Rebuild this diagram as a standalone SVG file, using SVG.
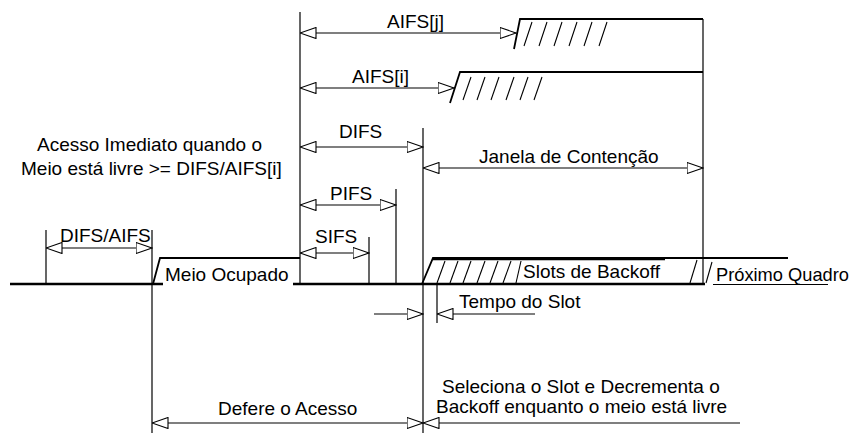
<svg xmlns="http://www.w3.org/2000/svg" width="853" height="433" viewBox="0 0 853 433">
<defs>
<style>
text{font-family:"Liberation Sans",Arial,sans-serif;font-size:19px;fill:#000}
.thin{stroke:#000;stroke-width:1.2;fill:none}
.mid{stroke:#000;stroke-width:1.8;fill:none}
.thick{stroke:#000;stroke-width:2.6;fill:none}
.hatch{stroke:#000;stroke-width:1.1;fill:none}
.dim{stroke:#000;stroke-width:1.2;fill:none;marker-start:url(#ah);marker-end:url(#ah)}
</style>
<marker id="ah" markerUnits="userSpaceOnUse" viewBox="0 0 17 12" refX="16.5" refY="6" markerWidth="17" markerHeight="12" orient="auto-start-reverse">
<path d="M16.5,6 L0.5,0.5 L0.5,11.5 Z" fill="#fff" stroke="#000" stroke-width="1.1"/>
</marker>
</defs>
<rect width="853" height="433" fill="#fff"/>

<g id="medium">
<line class="thick" x1="10" y1="284" x2="163" y2="284"/>
<polyline class="mid" points="153,284 160,258 300,258"/>
<line class="thick" x1="293" y1="284" x2="425" y2="284"/>
<polyline class="mid" points="422,284 433,258 788,258"/>
<line class="thick" x1="433" y1="259" x2="665" y2="259"/>
<line class="thick" x1="425" y1="284" x2="705" y2="284"/>
<line class="thin" x1="713" y1="284.5" x2="828" y2="284.5"/>
<g class="hatch">
<line x1="437" y1="283" x2="445" y2="261"/>
<line x1="450" y1="283" x2="458" y2="261"/>
<line x1="463" y1="283" x2="471" y2="261"/>
<line x1="477" y1="283" x2="485" y2="261"/>
<line x1="490" y1="283" x2="498" y2="261"/>
<line x1="503" y1="283" x2="511" y2="261"/>
<line x1="516" y1="283" x2="521" y2="261"/>
<line x1="690" y1="283" x2="697" y2="260"/>
<line x1="706" y1="283" x2="712" y2="262"/>
</g>
</g>

<g id="aifs-j-step">
<polyline class="mid" points="514,49 520,19 703,19"/>
<g class="hatch">
<line x1="524" y1="46" x2="532" y2="22"/>
<line x1="539" y1="46" x2="547" y2="22"/>
<line x1="554" y1="46" x2="562" y2="22"/>
<line x1="569" y1="46" x2="577" y2="22"/>
<line x1="584" y1="46" x2="592" y2="22"/>
<line x1="599" y1="46" x2="607" y2="22"/>
</g>
</g>

<g id="aifs-i-step">
<polyline class="mid" points="450,103 460,72 703,72"/>
<g class="hatch">
<line x1="463" y1="100" x2="471" y2="77"/>
<line x1="477" y1="100" x2="485" y2="77"/>
<line x1="491" y1="100" x2="499" y2="77"/>
<line x1="506" y1="100" x2="514" y2="77"/>
<line x1="520" y1="100" x2="528" y2="77"/>
<line x1="534" y1="100" x2="542" y2="77"/>
</g>
</g>

<g id="connectors">
<line class="thin" x1="300" y1="12" x2="300" y2="284"/>
<line class="thin" x1="703" y1="19" x2="703" y2="284"/>
<line class="thin" x1="423" y1="128" x2="423" y2="433"/>
<line class="thin" x1="152" y1="230" x2="152" y2="433"/>
<line class="thin" x1="46" y1="230" x2="46" y2="284"/>
<line class="thin" x1="369" y1="237" x2="369" y2="284"/>
<line class="thin" x1="396" y1="189" x2="396" y2="284"/>
<line class="thin" x1="437" y1="284" x2="437" y2="323"/>

<line class="dim" x1="300" y1="33" x2="516" y2="33"/>
<line class="dim" x1="300" y1="88" x2="454" y2="88"/>
<line class="dim" x1="300" y1="147" x2="423" y2="147"/>
<line class="dim" x1="423" y1="168" x2="703" y2="168"/>
<line class="dim" x1="300" y1="205" x2="396" y2="205"/>
<line class="dim" x1="300" y1="253" x2="369" y2="253"/>
<line class="dim" x1="46" y1="248" x2="152" y2="248"/>
<line class="dim" x1="152" y1="423" x2="423" y2="423"/>
<line class="thin" x1="374" y1="314" x2="423" y2="314" marker-end="url(#ah)"/>
<line class="thin" x1="437" y1="314" x2="535" y2="314" marker-start="url(#ah)"/>
<line class="thin" x1="423" y1="423" x2="740" y2="423" marker-start="url(#ah)"/>
</g>

<g id="labels">
<text x="387" y="28">AIFS[j]</text>
<text x="352" y="83">AIFS[i]</text>
<text x="37" y="151">Acesso Imediato quando o</text>
<text x="21" y="175">Meio está livre &gt;= DIFS/AIFS[i]</text>
<text x="339" y="138">DIFS</text>
<text x="479" y="163">Janela de Contenção</text>
<text x="330" y="200">PIFS</text>
<text x="315" y="243">SIFS</text>
<text x="60" y="242">DIFS/AIFS</text>
<text x="165" y="281">Meio Ocupado</text>
<text x="523" y="278">Slots de Backoff</text>
<text x="716" y="281" textLength="133" lengthAdjust="spacingAndGlyphs">Próximo Quadro</text>
<text x="459" y="308">Tempo do Slot</text>
<text x="442" y="393">Seleciona o Slot e Decrementa o</text>
<text x="436" y="413">Backoff enquanto o meio está livre</text>
<text x="218" y="415">Defere o Acesso</text>
</g>
</svg>
